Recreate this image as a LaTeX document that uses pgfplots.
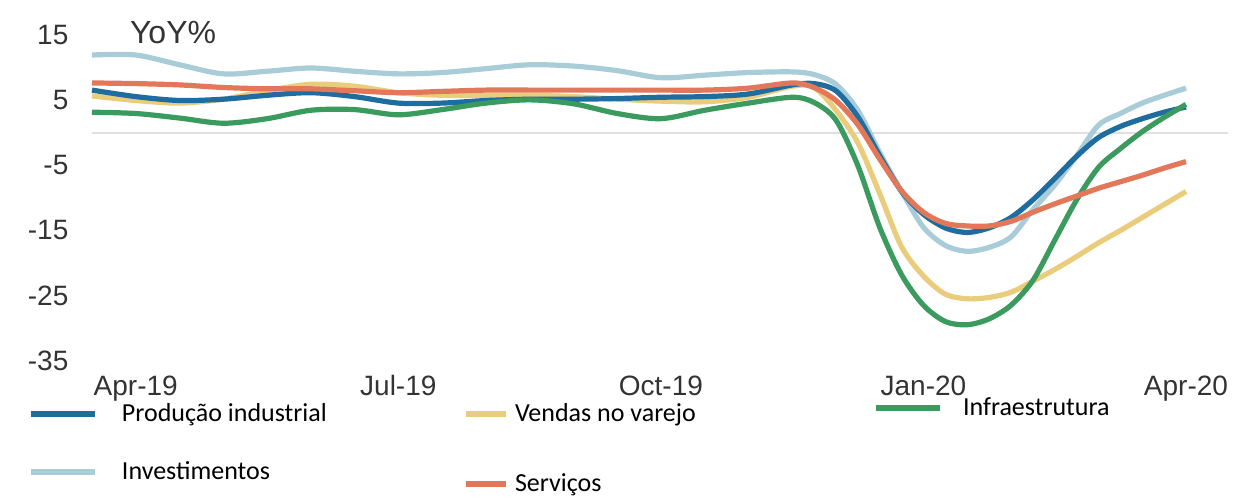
\documentclass[border=0pt]{standalone}
\usepackage{pgfplots}
\usepackage{pgfplotstable}
\pgfplotsset{compat=1.18}
\usepackage{fontspec}
\setmainfont{Liberation Sans}
\newfontfamily\legfont{Carlito}
\definecolor{cPI}{HTML}{1F6C9E}
\definecolor{cVV}{HTML}{E9CD7C}
\definecolor{cINF}{HTML}{3B9A5D}
\definecolor{cINV}{HTML}{A8CCD8}
\definecolor{cSRV}{HTML}{E27859}
\pgfplotstableread{
m     pi     vv     inf    inv    srv
-0.5  6.6    5.7    3.2    12.0   7.7
0     5.6    5.0    3.0    12.0   7.6
0.5   5.0    4.6    2.3    10.5   7.4
1     5.2    5.2    1.5    9.1    7.0
1.5   5.8    6.5    2.2    9.5    6.8
2     6.2    7.5    3.5    10.0   6.8
2.5   5.6    7.2    3.6    9.5    6.5
3     4.6    6.2    2.8    9.1    6.2
3.5   4.6    5.8    3.6    9.3    6.4
4     5.0    5.8    4.6    9.9    6.6
4.5   5.2    5.8    5.1    10.5   6.6
5     5.2    5.6    4.5    10.3   6.6
5.5   5.3    5.2    3.0    9.6    6.6
6     5.5    4.9    2.2    8.5    6.6
6.5   5.6    4.8    3.5    8.9    6.6
7     6.0    5.5    4.6    9.3    6.9
7.5   7.4    7.2    5.5    9.4    7.7
7.75  7.6    7.0    4.7    9.0    7.0
8     6.5    3.5    2.0    7.5    5.0
8.25  2.5    -1.5   -5.0   3.5    1.3
8.5   -3.5   -9.3   -14.5  -3.0   -4.0
8.75  -9.0   -17.5  -21.8  -9.0   -8.9
9     -12.5  -22.0  -26.5  -14.5  -12.2
9.25  -14.6  -24.8  -29.0  -17.3  -13.9
9.5   -15.3  -25.5  -29.5  -18.2  -14.3
9.75  -14.6  -25.3  -28.6  -17.6  -14.3
10    -13.0  -24.5  -26.5  -16.0  -13.6
10.25 -10.3  -22.8  -22.7  -11.8  -12.2
10.5  -7.0   -21.0  -16.5  -8.0   -10.9
10.75 -3.6   -19.0  -10.3  -3.5   -9.7
11    -0.7   -16.9  -5.3   1.2    -8.5
11.25 1.0    -15.0  -2.4   3.0    -7.5
11.5  2.2    -13.0  0.2    4.6    -6.5
11.75 3.2    -11.0  2.4    5.8    -5.4
12    4.0    -9.0   4.4    6.9    -4.4
}\data
\begin{document}
\begin{tikzpicture}
\begin{axis}[
  scale only axis, width=568pt, height=162.5pt,
  xmin=-0.5, xmax=12.48, ymin=-35, ymax=15,
  clip=false,
  axis line style={draw=none}, tick style={draw=none},
  xtick={0,3,6,9,12}, xticklabels={Apr-19,Jul-19,Oct-19,Jan-20,Apr-20},
  ytick={-35,-25,-15,-5,5,15},
  /pgf/number format/assume math mode=true,
  tick label style={font=\fontsize{14}{16}\selectfont, text=black!80},
  yticklabel style={xshift=-8.3pt},
  xticklabel style={yshift=-4pt},
  extra y ticks={0}, extra y tick labels={},
  extra y tick style={grid=major, major grid style={draw=black!12, line width=1.2pt}},
  legend columns=3,
  legend style={draw=none, fill=none, at={(0,0)}, anchor=north west, xshift=-32pt, yshift=-21.5pt,
    inner sep=0pt, outer sep=0pt, font=\legfont\fontsize{13}{15}\selectfont,
    row sep=17.5pt, column sep=0pt, nodes={inner sep=0pt}},
  legend cell align=left,
  legend image code/.code={\draw[#1, line width=3pt] (0pt,0pt) -- (32pt,0pt);},
  every axis plot/.append style={smooth, line width=2.6pt, no markers},
]
\addlegendimage{cPI}
\addlegendentry{\makebox[172pt][l]{\hspace{12pt}Produção industrial}}
\addlegendimage{legend image code/.code={\path[draw=none] (0pt,0pt) -- (32pt,0pt); \draw[cVV, line width=3pt] (12pt,0pt) -- (32pt,0pt);}}
\addlegendentry{\makebox[182pt][l]{\hspace{3pt}Vendas no varejo}}
\addlegendimage{legend image code/.code={\path[draw=none] (0pt,-3pt) -- (32pt,3pt); \draw[cINF, line width=3pt] (0pt,3pt) -- (32pt,3pt);}}
\addlegendentry{\hspace{10pt}\raisebox{3pt}[\height][\depth]{Infraestrutura}}
\addlegendimage{cINV}
\addlegendentry{\makebox[172pt][l]{\hspace{12pt}Investimentos}}
\addlegendimage{legend image code/.code={\path[draw=none] (0pt,-6pt) -- (32pt,6pt); \draw[cSRV, line width=3pt] (12pt,-6pt) -- (32pt,-6pt);}}
\addlegendentry{\makebox[182pt][l]{\hspace{3pt}\raisebox{-6pt}[\height][\depth]{Serviços}}}

\addplot[cINV, forget plot] table[x=m, y=inv] {\data};
\addplot[cVV, forget plot] table[x=m, y=vv] {\data};
\addplot[cPI, forget plot] table[x=m, y=pi] {\data};
\addplot[cINF, forget plot] table[x=m, y=inf] {\data};
\addplot[cSRV, forget plot] table[x=m, y=srv] {\data};

\node[anchor=west, inner sep=0pt, font=\fontsize{16}{18}\selectfont, text=black!80] at (axis cs:-0.07,15.4) {YoY\%};
\end{axis}
\path (current axis.south west) ++(-46pt,-68.75pt) rectangle ++(617.5pt,249pt);
\end{tikzpicture}
\end{document}
